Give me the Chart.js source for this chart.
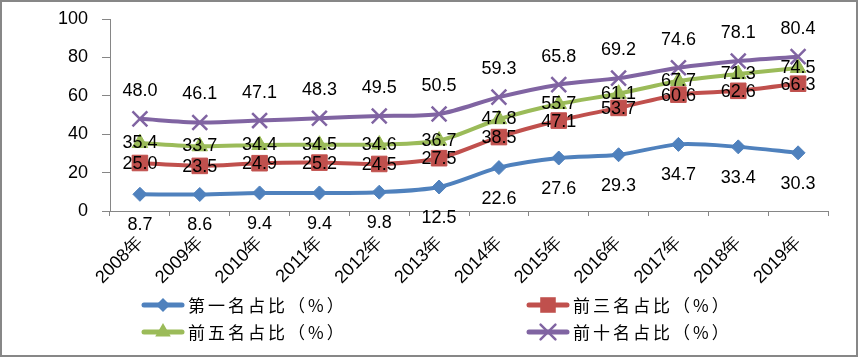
<!DOCTYPE html>
<html>
<head>
<meta charset="utf-8">
<script src="https://cdn.jsdelivr.net/npm/chart.js@4/dist/chart.umd.min.js"></script>
<style>
html,body{margin:0;padding:0;background:#fff;}
#wrap{width:858px;height:357px;position:relative;}
canvas{display:block;}
</style>
</head>
<body>
<div id="wrap"><canvas id="c" width="858" height="357"></canvas></div>
<script>
// ---- data ----
const years = ['2008年','2009年','2010年','2011年','2012年','2013年','2014年','2015年','2016年','2017年','2018年','2019年'];
const seriesNames = ['第一名占比（%）','前三名占比（%）','前五名占比（%）','前十名占比（%）'];
const top1Share  = [8.7, 8.6, 9.4, 9.4, 9.8, 12.5, 22.6, 27.6, 29.3, 34.7, 33.4, 30.3];
const top3Share  = [25.0, 23.5, 24.9, 25.2, 24.5, 27.5, 38.5, 47.1, 53.7, 60.6, 62.6, 66.3];
const top5Share  = [35.4, 33.7, 34.4, 34.5, 34.6, 36.7, 47.8, 55.7, 61.1, 67.7, 71.3, 74.5];
const top10Share = [48.0, 46.1, 47.1, 48.3, 49.5, 50.5, 59.3, 65.8, 69.2, 74.6, 78.1, 80.4];
const yTickValues = [0, 20, 40, 60, 80, 100];

// ---- styles ----
const colors = ['#4F81BD', '#C0504D', '#9BBB59', '#8064A2'];
const pointStyles = ['rectRot', 'rect', 'triangle', 'crossRot'];
const pointRadii = [7, 11, 9, 10.5];
const labelOffsets = [31, 1, 0, -28];
const legendPos = [[142, 305], [527, 305], [142, 332], [527, 332]];
const LABEL_FONT = '18px "Liberation Sans", Arial, sans-serif';
const AXIS_COLOR = '#868686';

const allSeries = [top1Share, top3Share, top5Share, top10Share];

const datasets = allSeries.map((vals, i) => ({
  label: seriesNames[i],
  data: vals,
  borderColor: colors[i],
  backgroundColor: colors[i],
  pointBackgroundColor: colors[i],
  pointBorderColor: colors[i],
  pointStyle: pointStyles[i],
  pointRadius: pointRadii[i],
  pointBorderWidth: pointStyles[i] === 'crossRot' ? 2.5 : 1,
  borderWidth: 4,
  tension: 0.3,
  fill: false,
  order: 3 - i
}));

function drawMarker(ctx, style, x, y, r, color) {
  ctx.save();
  ctx.fillStyle = color;
  ctx.strokeStyle = color;
  ctx.beginPath();
  if (style === 'rectRot') {
    ctx.moveTo(x, y - r); ctx.lineTo(x + r, y); ctx.lineTo(x, y + r); ctx.lineTo(x - r, y); ctx.closePath();
    ctx.fill();
  } else if (style === 'rect') {
    const s = Math.SQRT1_2 * r;
    ctx.rect(x - s, y - s, 2 * s, 2 * s); ctx.fill();
  } else if (style === 'triangle') {
    const a = r;
    ctx.moveTo(x, y - a);
    ctx.lineTo(x + a * Math.sin(2 * Math.PI / 3), y - a * Math.cos(2 * Math.PI / 3));
    ctx.lineTo(x + a * Math.sin(4 * Math.PI / 3), y - a * Math.cos(4 * Math.PI / 3));
    ctx.closePath(); ctx.fill();
  } else if (style === 'crossRot') {
    const d = r * Math.SQRT1_2;
    ctx.lineWidth = 2.5;
    ctx.moveTo(x - d, y - d); ctx.lineTo(x + d, y + d);
    ctx.moveTo(x + d, y - d); ctx.lineTo(x - d, y + d);
    ctx.stroke();
  }
  ctx.restore();
}

const decorPlugin = {
  id: 'decor',
  afterDatasetsDraw(chart) {
    const ctx = chart.ctx;
    ctx.save();
    ctx.font = LABEL_FONT;
    ctx.fillStyle = '#000';
    ctx.textAlign = 'center';
    ctx.textBaseline = 'middle';
    chart.data.datasets.forEach((ds, i) => {
      const meta = chart.getDatasetMeta(i);
      meta.data.forEach((pt, j) => {
        ctx.fillText(ds.data[j].toFixed(1), pt.x, pt.y + labelOffsets[i]);
      });
    });
    ctx.restore();
  },
  afterDraw(chart) {
    const ctx = chart.ctx;
    ctx.save();
    // legend
    chart.data.datasets.forEach((ds, i) => {
      const [lx, ly] = legendPos[i];
      ctx.strokeStyle = colors[i];
      ctx.lineWidth = 5;
      ctx.lineCap = 'round';
      ctx.beginPath();
      ctx.moveTo(lx + 2, ly); ctx.lineTo(lx + 40, ly);
      ctx.stroke();
      drawMarker(ctx, pointStyles[i], lx + 21, ly, pointRadii[i], colors[i]);
      ctx.font = '17px "Noto Sans CJK SC", sans-serif';
      ctx.fillStyle = '#000';
      ctx.textAlign = 'left';
      ctx.textBaseline = 'middle';
      ctx.letterSpacing = '3px';
      ctx.fillText(ds.label, lx + 46, ly + 1);
      ctx.letterSpacing = '0px';
    });
    // outer border
    ctx.fillStyle = '#878787';
    const W = chart.width, H = chart.height;
    ctx.fillRect(0, 0, W, 2);
    ctx.fillRect(0, H - 2, W, 2);
    ctx.fillRect(0, 0, 2, H);
    ctx.fillRect(W - 2, 0, 2, H);
    ctx.restore();
  }
};

new Chart(document.getElementById('c'), {
  type: 'line',
  data: { labels: years, datasets: datasets },
  options: {
    responsive: false,
    animation: false,
    devicePixelRatio: 1,
    layout: { padding: { top: 19, right: 30, left: 0, bottom: 0 } },
    plugins: { legend: { display: false }, tooltip: { enabled: false } },
    scales: {
      x: {
        offset: true,
        grid: { offset: true, drawOnChartArea: false, drawTicks: true, tickLength: 5, color: AXIS_COLOR },
        border: { display: true, color: AXIS_COLOR, width: 1 },
        ticks: {
          autoSkip: false, minRotation: 45, maxRotation: 45, padding: 16,
          color: '#000', font: { family: '"Liberation Sans", Arial, sans-serif', size: 18 }
        },
        afterFit(scale) { scale.height = 146; scale.paddingLeft = 0; scale.paddingRight = 0; }
      },
      y: {
        min: 0, max: 100,
        afterBuildTicks(scale) { scale.ticks = yTickValues.map(v => ({ value: v })); },
        grid: { drawOnChartArea: false, drawTicks: true, tickLength: 8, color: AXIS_COLOR },
        border: { display: true, color: AXIS_COLOR, width: 1 },
        ticks: {
          padding: 14, color: '#000',
          font: { family: '"Liberation Sans", Arial, sans-serif', size: 18 }
        },
        afterFit(scale) { scale.width = 110; scale.paddingTop = 0; scale.paddingBottom = 0; }
      }
    }
  },
  plugins: [decorPlugin]
});
</script>
</body>
</html>
